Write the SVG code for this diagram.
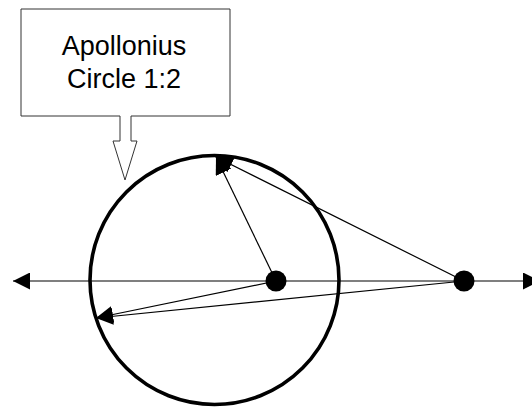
<svg xmlns="http://www.w3.org/2000/svg" width="532" height="408" viewBox="0 0 532 408">
<style>
.conn{stroke:#000;stroke-width:1.2;fill:none}
.lbl{font-family:"Liberation Sans",Arial,sans-serif;font-size:27px;fill:#000;text-anchor:middle}
</style>
<defs>
<marker id="ah" markerUnits="userSpaceOnUse" markerWidth="17" markerHeight="17" refX="16" refY="8" orient="auto-start-reverse" viewBox="0 0 16 16">
<path d="M0,0 L16,8 L0,16 Z" fill="#000"/>
</marker>
</defs>
<rect width="532" height="408" fill="#fff"/>
<g id="callout">
<path d="M21,9 H230 V116 H131 V141 H137 L125,180 L113,141 H120 V116 H21 Z" fill="#fff" stroke="#333" stroke-width="1"/>
<text class="lbl" x="124" y="55">Apollonius</text>
<text class="lbl" x="124" y="88">Circle 1:2</text>
</g>
<g id="circle">
<circle cx="214.5" cy="280" r="124.5" fill="none" stroke="#000" stroke-width="3.6"/>
</g>
<g id="connectors">
<line class="conn" x1="13" y1="281" x2="540" y2="281" marker-start="url(#ah)" marker-end="url(#ah)"/>
<line class="conn" x1="276" y1="281" x2="216" y2="157" marker-end="url(#ah)"/>
<line class="conn" x1="464" y1="281" x2="216" y2="157" marker-end="url(#ah)"/>
<line class="conn" x1="276" y1="281" x2="96" y2="318" marker-end="url(#ah)"/>
<line class="conn" x1="464" y1="281" x2="96" y2="318" marker-end="url(#ah)"/>
</g>
<g id="p1">
<circle cx="276" cy="281" r="10.5" fill="#000"/>
</g>
<g id="p2">
<circle cx="464" cy="281" r="10.5" fill="#000"/>
</g>
</svg>
